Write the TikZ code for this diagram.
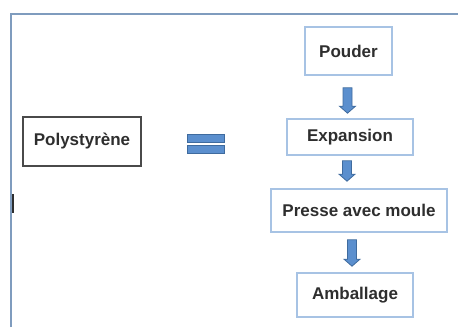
\documentclass[tikz,border=0pt]{standalone}
\usepackage{fontspec}
\setmainfont{Liberation Sans}
\usetikzlibrary{calc}

\definecolor{framecol}{HTML}{7F9CBE}
\definecolor{boxblue}{HTML}{A7C3E4}
\definecolor{arrowfill}{HTML}{5B8FCE}
\definecolor{arrowedge}{HTML}{3F6B9E}
\definecolor{textgray}{HTML}{2E2E2E}
\definecolor{darkedge}{HTML}{4A4A4A}

\tikzset{
  stepbox/.style={draw=boxblue, line width=1.6pt, fill=white, inner sep=0pt,
    font=\bfseries\fontsize{17}{19}\selectfont, text=textgray},
  sourcebox/.style={stepbox, draw=darkedge, line width=1.4pt},
  flowshape/.style={fill=arrowfill, draw=arrowedge, line width=0.8pt, line join=miter},
  framerule/.style={draw=framecol, line width=1.5pt},
}

% block arrow from #1 (top of shaft) to #2 (tip)
\newcommand\flowarrow[2]{%
  \draw[flowshape] ($(#1)+(-4.5,0)$) -- ($(#2)+(-4.5,-7)$) -- ($(#2)+(-8,-7)$)
    -- (#2) -- ($(#2)+(8,-7)$) -- ($(#2)+(4.5,-7)$) -- ($(#1)+(4.5,0)$) -- cycle;}

\begin{document}
\begin{tikzpicture}[x=1pt, y=-1pt]
  \useasboundingbox (0,0) rectangle (458,327);

  % outer frame (only top and left edges show)
  \draw[framerule] (11,327) -- (11,14) -- (458,14);
  \draw[draw=textgray, line width=2.4pt] (13,194) -- (13,213);

  % source material
  \node[sourcebox, minimum width=118pt, minimum height=49pt] (poly) at (82,141.5) {Polystyrène};

  % equals sign
  \draw[flowshape] (187,134) rectangle (224,142);
  \draw[flowshape] (187,145) rectangle (224,153);

  % process steps
  \node[stepbox, minimum width=87pt, minimum height=48pt] (pouder) at (348.5,51) {Pouder};
  \node[stepbox, minimum width=126pt, minimum height=36pt] (expansion) at (350,137) {Expansion};
  \node[stepbox, minimum width=176pt, minimum height=43pt] (presse) at (359,210.5) {Presse avec moule};
  \node[stepbox, minimum width=116pt, minimum height=44pt] (amballage) at (355,295) {Amballage};

  % arrow end points
  \path (pouder.south) ++(-1,12) coordinate (a1s);
  \path (expansion.north) ++(-2.5,-5) coordinate (a1e);
  \path (expansion.south) ++(-3,5) coordinate (a2s);
  \path (presse.north) ++(-12,-7) coordinate (a2e);
  \path (presse.south) ++(-7,7) coordinate (a3s);
  \path (amballage.north) ++(-3,-6) coordinate (a3e);

  \flowarrow{a1s}{a1e}
  \flowarrow{a2s}{a2e}
  \flowarrow{a3s}{a3e}
\end{tikzpicture}
\end{document}
